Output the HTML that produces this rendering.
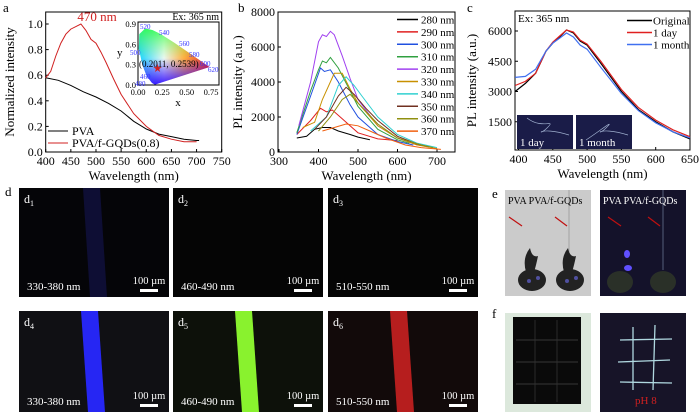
<!DOCTYPE html>
<html><head><meta charset="utf-8"><style>
body{margin:0;background:#fff}
svg{display:block;font-family:"Liberation Serif",serif}
</style></head><body>
<svg id="fig" width="700" height="414" viewBox="0 0 700 414" xmlns="http://www.w3.org/2000/svg">
<defs>
<clipPath id="cieclip"><polygon id="ciepoly" points=""/></clipPath>
<linearGradient id="gh" x1="0" y1="0" x2="1" y2="0"><stop offset="0" stop-color="#00d0ff"/><stop offset="0.35" stop-color="#e8f8f0"/><stop offset="0.6" stop-color="#ffb040"/><stop offset="1" stop-color="#e00020"/></linearGradient>
<linearGradient id="gv" x1="0" y1="0" x2="0" y2="1"><stop offset="0" stop-color="#20ff40" stop-opacity="1"/><stop offset="0.55" stop-color="#80ff60" stop-opacity="0"/></linearGradient>
<linearGradient id="gb" x1="0" y1="0" x2="0" y2="1"><stop offset="0.55" stop-color="#4000ff" stop-opacity="0"/><stop offset="1" stop-color="#3010ff" stop-opacity="1"/></linearGradient>
</defs>
<g id="pa"></g>
<g id="pb"></g>
<g id="pc"></g>
<g id="photos"></g>
</svg>
<script>
// ---- Panel a data ----
const aPvaX=[400,425,450,475,500,525,550,575,600,625,650,675,700,705];
const aPvaY=[0.58,0.56,0.52,0.47,0.43,0.38,0.32,0.24,0.18,0.14,0.12,0.10,0.09,0.09];
const aGqdX=[400,410,420,430,440,450,460,470,480,490,500,510,520,535,550,575,600,625,650,675,700];
const aGqdY=[0.58,0.63,0.75,0.85,0.92,0.96,0.98,1.0,0.95,0.88,0.85,0.78,0.70,0.57,0.45,0.30,0.20,0.13,0.10,0.08,0.08];
const aXTicks=[400,450,500,550,600,650,700,750];
const aYTicks=[0.0,0.2,0.4,0.6,0.8,1.0];
// ---- Panel b data ----
const bLabels=["280 nm","290 nm","300 nm","310 nm","320 nm","330 nm","340 nm","350 nm","360 nm","370 nm"];
const bColors=["#000000","#e02020","#2050e0","#30a040","#a040f0","#c89000","#30d0d0","#703020","#909010","#f06010"];
const b280X=[345,370,390,410,430,450,480,500,530];const b280Y=[800,900,1300,1400,1400,1200,1000,850,700];
const b290X=[345,380,405,420,435,460,500,550,600];const b290Y=[1000,1800,2500,2300,2400,1900,1100,750,650];
const b300X=[345,380,405,415,430,450,480,500,550,600,640];const b300Y=[1000,3200,4800,4600,4700,4000,2700,2000,1000,600,400];
const b310X=[345,380,400,410,420,430,450,480,500,550,600,630];const b310Y=[1100,3500,4700,5200,5100,5400,4800,3500,2600,1300,700,500];
const b320X=[350,380,400,410,420,430,440,460,480,500,550,600,650];const b320Y=[1500,4000,6300,6700,6600,6900,6700,5500,4200,3000,1500,800,400];
const b330X=[360,390,410,440,460,480,500,550,600,650,700];const b330Y=[1400,1700,3000,4500,4500,3600,2800,1500,800,400,200];
const b340X=[380,420,450,470,490,510,550,600,650,700];const b340Y=[1200,2000,3800,4300,3800,3200,2000,1000,500,250];
const b350X=[390,420,450,470,490,520,550,600,650,680];const b350Y=[1300,2000,3200,3700,3300,2500,1800,900,450,300];
const b360X=[400,430,460,480,500,550,600,660,690];const b360Y=[1200,2000,3000,3300,2800,1600,800,400,250];
const b370X=[410,440,470,500,530,570,620,660,710];const b370Y=[1200,1400,1600,1500,1200,800,400,250,150];
const bXTicks=[300,400,500,600,700];
const bYTicks=[0,2000,4000,6000,8000];
// ---- Panel c data ----
const cLabels=["Original","1 day","1 month"];
const cColors=["#000000","#e02020","#4070f0"];
const cOrigX=[395,410,425,440,450,460,470,480,490,500,520,550,575,600,625,650];
const cOrigY=[3000,3400,3900,5000,5400,5700,6050,5900,5500,5300,4400,3000,2100,1500,1000,650];
const cDayX=[395,410,425,440,450,460,470,480,490,500,520,550,575,600,625,650];
const cDayY=[3300,3500,3900,5000,5450,5750,6050,5950,5550,5350,4500,3100,2200,1580,1100,760];
const cMonX=[395,410,425,440,450,460,470,480,490,500,520,550,575,600,625,650];
const cMonY=[3700,3750,4100,5000,5400,5650,5900,5700,5300,5100,4200,2900,2050,1450,1000,700];
const cXTicks=[400,450,500,550,600,650];
const cYTicks=[1500,3000,4500,6000];

const NS="http://www.w3.org/2000/svg";
function mk(parent,tag,attrs,txt){const e=document.createElementNS(NS,tag);for(const k in attrs)e.setAttribute(k,attrs[k]);if(txt!==undefined)e.textContent=txt;parent.appendChild(e);return e;}
function lin(d0,d1,r0,r1){return v=>r0+(v-d0)*(r1-r0)/(d1-d0);}
function axes(g,box,xs,ys,xt,yt,xfmt,yfmt,xtitle,ytitle){
  const r=mk(g,'rect',{x:box.x0,y:box.y0,width:box.x1-box.x0,height:box.y1-box.y0,fill:'none',stroke:'#000','stroke-width':1});
  
  xt.forEach(t=>{const x=xs(t);mk(g,'line',{x1:x,x2:x,y1:box.y1,y2:box.y1-3,stroke:'#000'});
    const l=mk(g,'text',{x:x,y:box.y1+13,'font-size':12,'text-anchor':'middle'},xfmt(t));});
  yt.forEach(t=>{const y=ys(t);mk(g,'line',{x1:box.x0,x2:box.x0+3,y1:y,y2:y,stroke:'#000'});
    const l=mk(g,'text',{x:box.x0-3,y:y+4,'font-size':12,'text-anchor':'end'},yfmt(t));});
  const xl=mk(g,'text',{x:(box.x0+box.x1)/2,y:box.y1+28,'font-size':13,'text-anchor':'middle'},xtitle);
  
  const cy=(box.y0+box.y1)/2;
  const yl=mk(g,'text',{x:box.xt,y:cy,'font-size':13,'text-anchor':'middle',transform:`rotate(-90 ${box.xt} ${cy})`},ytitle);
  
}
function line(g,X,Y,xs,ys,col,name,w){const p=X.map((x,i)=>xs(x).toFixed(1)+','+ys(Y[i]).toFixed(1)).join(' ');
  const e=mk(g,'polyline',{points:p,fill:'none',stroke:col,'stroke-width':w||1});return e;}

// ---- Panel a ----
(function(){
  const g=document.getElementById('pa');
  const box={x0:45.7,x1:221.7,y0:12,y1:152,xt:14};
  const xs=lin(400,750,45.7,221.7), ys=lin(0,1,152,24);
  axes(g,box,xs,ys,aXTicks,aYTicks,t=>t,t=>t.toFixed(1),'Wavelength (nm)','Normalized intensity');
  line(g,aPvaX,aPvaY,xs,ys,'#000','line-pva',1);
  line(g,aGqdX,aGqdY,xs,ys,'#d02020','line-pva-fgqds',1);
  mk(g,'text',{x:3,y:12,'font-size':13},'a');
  mk(g,'text',{x:97,y:21,'font-size':13,fill:'#d02020','text-anchor':'middle'},'470 nm');
  mk(g,'text',{x:219,y:20,'font-size':10,'text-anchor':'end'},'Ex: 365 nm');
  const lg=mk(g,'g',{});
  mk(lg,'line',{x1:48,x2:68,y1:131,y2:131,stroke:'#000'});mk(lg,'text',{x:72,y:135,'font-size':12},'PVA');
  mk(lg,'line',{x1:48,x2:68,y1:143,y2:143,stroke:'#d02020'});mk(lg,'text',{x:72,y:147,'font-size':12},'PVA/f-GQDs(0.8)');
  // inset CIE
  const ig=mk(g,'g',{});
  const ix=lin(0,0.75,138,211), iy=lin(0,0.9,85,24);
  const cie=[[0.174,0.005],[0.144,0.03],[0.09,0.13],[0.045,0.295],[0.008,0.538],[0.014,0.75],[0.074,0.834],[0.15,0.81],[0.23,0.754],[0.373,0.624],[0.512,0.487],[0.627,0.372],[0.691,0.308],[0.735,0.265]];
  document.getElementById('ciepoly').setAttribute('points',cie.map(p=>ix(p[0])+','+iy(p[1])).join(' '));
  const cg=mk(ig,'g',{'clip-path':'url(#cieclip)'});
  mk(cg,'rect',{x:136,y:24,width:80,height:62,fill:'url(#gh)'});
  mk(cg,'rect',{x:136,y:24,width:80,height:62,fill:'url(#gv)'});
  mk(cg,'rect',{x:136,y:24,width:80,height:62,fill:'url(#gb)'});
  mk(ig,'rect',{x:138,y:22,width:81,height:63,fill:'none',stroke:'#000'});
  [[0,'0.00'],[0.25,'0.25'],[0.5,'0.50'],[0.75,'0.75']].forEach(t=>mk(ig,'text',{x:ix(t[0]),y:95,'font-size':8.5,'text-anchor':'middle'},t[1]));
  [[0,'0.0'],[0.3,'0.3'],[0.6,'0.6'],[0.9,'0.9']].forEach(t=>mk(ig,'text',{x:136,y:iy(t[0])+3,'font-size':8.5,'text-anchor':'end'},t[1]));
  mk(ig,'text',{x:178,y:106,'font-size':11,'text-anchor':'middle'},'x');
  mk(ig,'text',{x:117,y:56,'font-size':11},'y');
  [['520',140,29],['540',159,35],['560',179,46],['580',189,57],['600',200,66],['620',208,72],['500',130,55],['460',140,79],['480',135,86]].forEach(t=>mk(ig,'text',{x:t[1],y:t[2],'font-size':7,fill:'#3030ff'},t[0]));
  mk(ig,'text',{x:139,y:67,'font-size':9},'(0.2011, 0.2539)');
  mk(ig,'text',{x:ix(0.2011),y:iy(0.2539)+4,'font-size':11,fill:'#d02020','text-anchor':'middle'},'★');
})();

// ---- Panel b ----
(function(){
  const g=document.getElementById('pb');
  const box={x0:278,x1:455,y0:12,y1:152,xt:242};
  const xs=lin(300,700,279,437), ys=lin(0,8000,152,12);
  axes(g,box,xs,ys,bXTicks,bYTicks,t=>t,t=>t,'Wavelength (nm)','PL intensity (a.u.)');
  const sets=[[b280X,b280Y],[b290X,b290Y],[b300X,b300Y],[b310X,b310Y],[b320X,b320Y],[b330X,b330Y],[b340X,b340Y],[b350X,b350Y],[b360X,b360Y],[b370X,b370Y]];
  sets.forEach((s,i)=>line(g,s[0],s[1],xs,ys,bColors[i],'line-'+bLabels[i].replace(' ',''),1));
  mk(g,'text',{x:238,y:12,'font-size':13},'b');
  const lg=mk(g,'g',{});
  bLabels.forEach((l,i)=>{const y=19.5+i*12.4;mk(lg,'line',{x1:397,x2:418,y1:y,y2:y,stroke:bColors[i],'stroke-width':1.5});mk(lg,'text',{x:421,y:y+4,'font-size':11},l);});
})();

// ---- Panel c ----
(function(){
  const g=document.getElementById('pc');
  const box={x0:515,x1:690,y0:11,y1:150,xt:476};
  const xs=lin(400,650,518.5,690), ys=lin(0,6000,152,31);
  axes(g,box,xs,ys,cXTicks,cYTicks,t=>t,t=>t,'Wavelength (nm)','PL intensity (a.u.)');
  [[cOrigX,cOrigY],[cDayX,cDayY],[cMonX,cMonY]].forEach((s,i)=>line(g,s[0],s[1],xs,ys,cColors[i],'line-'+cLabels[i].replace(' ','-').toLowerCase(),1.2));
  mk(g,'text',{x:467,y:12,'font-size':13},'c');
  mk(g,'text',{x:518,y:22,'font-size':11},'Ex: 365 nm');
  const lg=mk(g,'g',{});
  cLabels.forEach((l,i)=>{const y=20.5+i*12;mk(lg,'line',{x1:627,x2:652,y1:y,y2:y,stroke:cColors[i],'stroke-width':1.5});mk(lg,'text',{x:653,y:y+4,'font-size':11},l);});
  [[517,'1 day'],[576,'1 month']].forEach((p,i)=>{const ig=mk(g,'g',{});
    mk(ig,'rect',{x:p[0],y:115,width:56,height:34,fill:'#1a1c48'});
    mk(ig,'path',{d:`M${p[0]+10} ${p[0]>550?140:118} C ${p[0]+25} 130, ${p[0]+40} 118, ${p[0]+30} 128 S ${p[0]+20} 125, ${p[0]+52} 135`,stroke:'#a0b0d0',fill:'none','stroke-width':0.7});
    mk(ig,'text',{x:p[0]+3,y:146,'font-size':11,fill:'#fff'},p[1]);});
})();

// ---- Photo panels ----
(function(){
  const g=document.getElementById('photos');
  mk(g,'text',{x:5,y:196,'font-size':13},'d');
  const cols=[19,173,328], w=150;
  const rows=[[188,297],[311,412]];
  const stripe=[['#10103a','#000','#000'],['#2828ff','#90ff30','#c02020']];
  const bg=[['#050508','#050505','#050505'],['#101014','#0d110a','#120a0a']];
  const bands=['330-380 nm','460-490 nm','510-550 nm'];
  rows.forEach((r,ri)=>cols.forEach((x,ci)=>{
    const pg=mk(g,'g',{});
    const h=r[1]-r[0];
    mk(pg,'rect',{x:x,y:r[0],width:w,height:h,fill:bg[ri][ci]});
    if(stripe[ri][ci]!=='#000'){const o=ri===0?64:62;mk(pg,'polygon',{points:`${x+o},${r[0]} ${x+o+17},${r[0]} ${x+o+24},${r[1]} ${x+o+7},${r[1]}`,fill:stripe[ri][ci],opacity:ri===0?0.9:0.95});}
    const t=mk(pg,'text',{x:x+5,y:r[0]+15,'font-size':12,fill:'#fff'},'d');mk(t,'tspan',{'font-size':8,dy:3},String(ri*3+ci+1));
    mk(pg,'text',{x:x+8,y:r[1]-7,'font-size':11,fill:'#fff'},bands[ci]);
    mk(pg,'text',{x:x+w-20,y:r[1]-13,'font-size':10.5,fill:'#fff','text-anchor':'middle'},'100 µm');
    mk(pg,'rect',{x:x+w-29,y:r[1]-8,width:18,height:3,fill:'#fff'});
  }));
  mk(g,'text',{x:492,y:198,'font-size':13},'e');
  mk(g,'text',{x:492,y:318,'font-size':13},'f');
  // e left
  const e1=mk(g,'g',{});
  mk(e1,'rect',{x:505,y:190,width:86,height:106,fill:'#cbcbcb'});
  mk(e1,'line',{x1:569,y1:190,x2:569,y2:252,stroke:'#999','stroke-width':0.8});
  mk(e1,'text',{x:508,y:204,'font-size':10},'PVA  PVA/f-GQDs');
  mk(e1,'line',{x1:509,y1:217,x2:522,y2:226,stroke:'#c01010','stroke-width':1.2});
  mk(e1,'line',{x1:555,y1:217,x2:567,y2:226,stroke:'#c01010','stroke-width':1.2});
  [[532,280],[570,280]].forEach(p=>{mk(e1,'ellipse',{cx:p[0],cy:p[1],rx:14,ry:11,fill:'#222'});
    mk(e1,'path',{d:`M${p[0]-6} ${p[1]-8} Q${p[0]-10} ${p[1]-22} ${p[0]-2} ${p[1]-32} Q${p[0]} ${p[1]-22} ${p[0]+6} ${p[1]-24} Q${p[0]+4} ${p[1]-14} ${p[0]+2} ${p[1]-8} Z`,fill:'#222'});
    mk(e1,'circle',{cx:p[0]-3,cy:p[1]+1,r:2,fill:'#5050a0'});mk(e1,'circle',{cx:p[0]+6,cy:p[1]-2,r:2,fill:'#5050a0'});});
  // e right
  const e2=mk(g,'g',{});
  mk(e2,'rect',{x:600,y:190,width:86,height:106,fill:'#14122a'});
  mk(e2,'line',{x1:663,y1:190,x2:663,y2:270,stroke:'#8090b0','stroke-width':0.6});
  mk(e2,'text',{x:603,y:204,'font-size':10,fill:'#fff'},'PVA  PVA/f-GQDs');
  mk(e2,'line',{x1:608,y1:217,x2:621,y2:226,stroke:'#c01010','stroke-width':1.2});
  mk(e2,'line',{x1:648,y1:217,x2:660,y2:226,stroke:'#c01010','stroke-width':1.2});
  [[620,282],[663,282]].forEach(p=>mk(e2,'ellipse',{cx:p[0],cy:p[1],rx:13,ry:11,fill:'#2a3028'}));
  mk(e2,'ellipse',{cx:627,cy:254,rx:3,ry:4,fill:'#6050ff'});mk(e2,'ellipse',{cx:628,cy:268,rx:4,ry:3,fill:'#6050ff'});
  // f left
  const f1=mk(g,'g',{});
  mk(f1,'rect',{x:505,y:313,width:86,height:99,fill:'#dce8dc'});
  mk(f1,'rect',{x:513,y:317,width:68,height:87,fill:'#0a0a0a'});
  [340,362,384].forEach(y=>mk(f1,'line',{x1:516,x2:578,y1:y,y2:y,stroke:'#444','stroke-width':0.8}));
  [535,557].forEach(x=>mk(f1,'line',{x1:x,x2:x,y1:320,y2:402,stroke:'#333','stroke-width':0.8}));
  // f right
  const f2=mk(g,'g',{});
  mk(f2,'rect',{x:600,y:313,width:86,height:99,fill:'#171428'});
  [[620,340,672,339],[618,362,670,360],[620,382,672,383]].forEach(l=>mk(f2,'line',{x1:l[0],y1:l[1],x2:l[2],y2:l[3],stroke:'#b0d8e0','stroke-width':1.3}));
  [[633,327,633,390],[655,325,653,390]].forEach(l=>mk(f2,'line',{x1:l[0],y1:l[1],x2:l[2],y2:l[3],stroke:'#b0d8e0','stroke-width':1.3}));
  mk(f2,'text',{x:635,y:404,'font-size':11,fill:'#d02020'},'pH 8');
})();
</script>
</body></html>
